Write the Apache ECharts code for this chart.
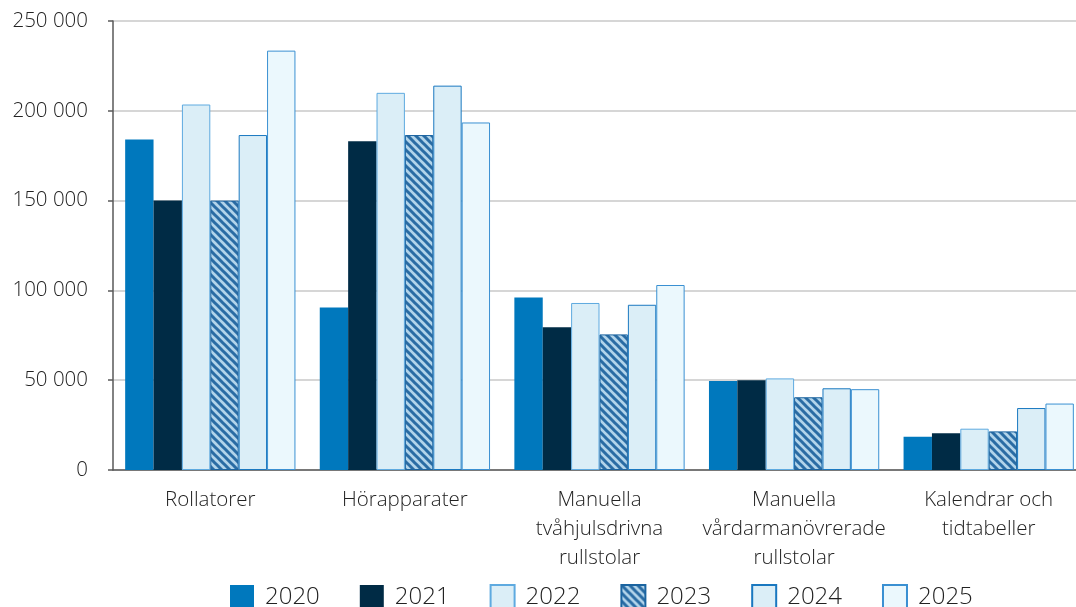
<!DOCTYPE html>
<html lang="sv">
<head>
    <meta charset="UTF-8">
    <title>Hjälpmedel</title>
    <script src="https://cdnjs.cloudflare.com/ajax/libs/echarts/6.0.0/echarts.min.js"></script>
    <style>
        html, body { margin: 0; padding: 0; background: #fff; }
        #main { width: 1076px; height: 607px; }
    </style>
</head>
<body>
    <div id="main"></div>
    <script>
        const categories = [
            'Rollatorer',
            'Hörapparater',
            'Manuella\ntvåhjulsdrivna\nrullstolar',
            'Manuella\nvårdarmanövrerade\nrullstolar',
            'Kalendrar och\ntidtabeller'
        ];
        const years = ['2020', '2021', '2022', '2023', '2024', '2025'];

        const v2020 = [184000, 90500, 96000, 49500, 18500];
        const v2021 = [150000, 183000, 79500, 50000, 20500];
        const v2022 = [203500, 210000, 93000, 51000, 23000];
        const v2023 = [150000, 186500, 75500, 40500, 21500];
        const v2024 = [186500, 214000, 92000, 45500, 34500];
        const v2025 = [233500, 193500, 103000, 45000, 37000];

        const yTicks = [0, 50000, 100000, 150000, 200000, 250000];

        // diagonal stripes for 2023
        function stripes() {
            const c = document.createElement('canvas');
            c.width = 8; c.height = 8;
            const ctx = c.getContext('2d');
            ctx.fillStyle = '#b2d4ea';
            ctx.fillRect(0, 0, 8, 8);
            ctx.strokeStyle = '#2a6ca4';
            ctx.lineWidth = 3;
            ctx.beginPath();
            ctx.moveTo(-2, -2); ctx.lineTo(10, 10);
            ctx.moveTo(-6, 2); ctx.lineTo(2, 10);
            ctx.moveTo(6, -2); ctx.lineTo(14, 6);
            ctx.stroke();
            return c;
        }

        const styles = [
            { color: '#0078bd' },
            { color: '#002b45' },
            { color: '#dbeef7', borderColor: '#5eaae0', borderWidth: 1 },
            { color: { image: stripes(), repeat: 'repeat' }, borderColor: '#1b64a0', borderWidth: 1 },
            { color: '#dbeef7', borderColor: '#1a78c0', borderWidth: 1 },
            { color: '#ebf8fd', borderColor: '#3a90d2', borderWidth: 1 }
        ];
        const values = [v2020, v2021, v2022, v2023, v2024, v2025];

        function fmt(v) {
            return String(v).replace(/\B(?=(\d{3})+(?!\d))/g, ' ');
        }

        const chart = echarts.init(document.getElementById('main'));

        const option = {
            animation: false,
            textStyle: { fontFamily: 'Open Sans' },
            grid: { left: 113, top: 21, width: 973, height: 449, outerBoundsMode: 'none' },
            legend: {
                data: years,
                bottom: -8,
                left: 225,
                itemWidth: 24,
                itemHeight: 24,
                itemGap: 40,
                icon: 'rect',
                textStyle: { fontSize: 24, fontWeight: 300, color: '#222', padding: [0, 0, 0, 6], fontFamily: 'Open Sans' }
            },
            xAxis: {
                type: 'category',
                data: categories,
                axisLine: { lineStyle: { color: '#595959', width: 1.5 } },
                axisTick: { length: 6, lineStyle: { color: '#595959', width: 1.5 } },
                axisLabel: { fontSize: 20.5, fontWeight: 300, color: '#222', lineHeight: 29, margin: 16, interval: 0 }
            },
            yAxis: {
                type: 'value',
                min: yTicks[0],
                max: yTicks[yTicks.length - 1],
                interval: 50000,
                axisLine: { show: true, lineStyle: { color: '#595959', width: 1.5 } },
                axisTick: { show: true, length: 5, lineStyle: { color: '#595959', width: 1.5 } },
                axisLabel: { fontSize: 20.5, fontWeight: 300, color: '#222', margin: 25, formatter: fmt },
                splitLine: { lineStyle: { color: '#c8c8c8', width: 1.5 } }
            },
            series: years.map((y, i) => ({
                name: y,
                type: 'bar',
                data: values[i],
                barGap: '0%',
                barCategoryGap: '12.5%',
                itemStyle: styles[i]
            }))
        };

        chart.setOption(option);
    </script>
</body>
</html>
